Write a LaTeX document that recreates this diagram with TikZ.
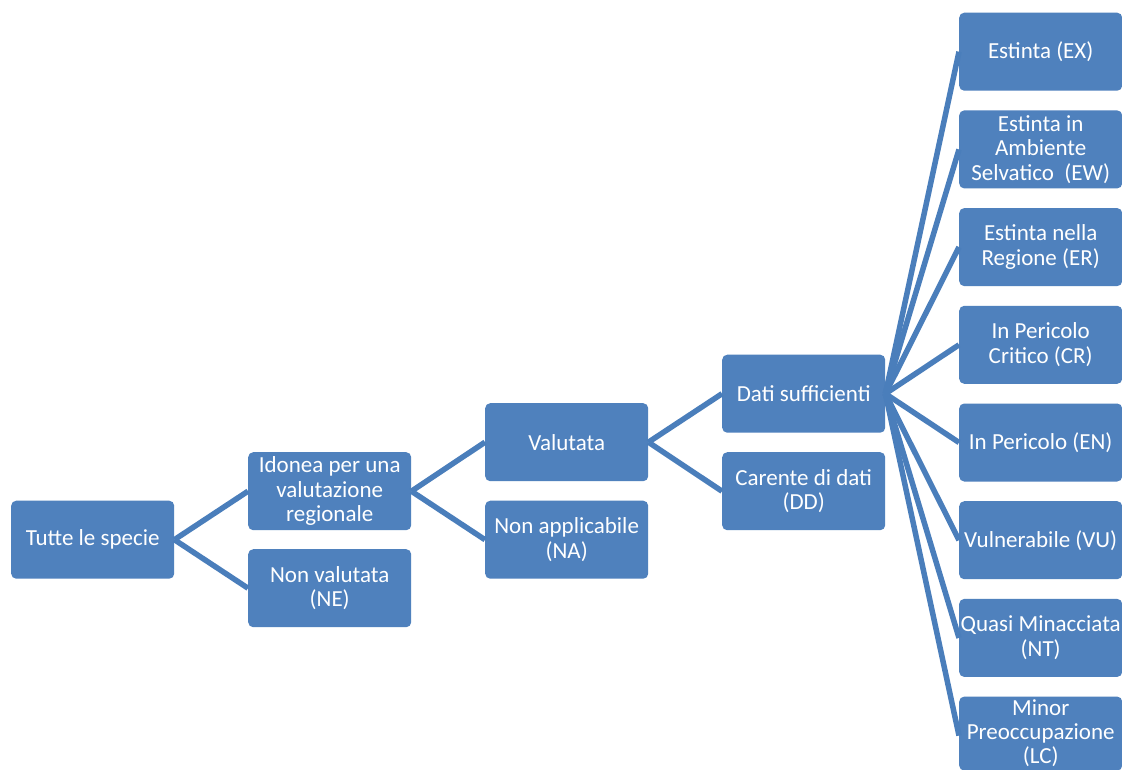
\documentclass[tikz,border=0pt]{standalone}
\usepackage{fontspec}
\setmainfont{Carlito}
\definecolor{boxblue}{HTML}{4F81BD}
\definecolor{lineblue}{HTML}{4A7EBB}
\begin{document}
\begin{tikzpicture}[x=1pt,y=-1pt,
  catbox/.style={draw=none, fill=boxblue, rounded corners=5pt, anchor=north west,
    minimum width=163pt, minimum height=78pt, inner xsep=0pt, inner ysep=2pt, align=center,
    text=white, font=\fontsize{23}{24.5}\selectfont},
  link/.style={draw=lineblue, line width=5.5pt}]
\useasboundingbox (0,0) rectangle (1122,769);
\fill[white] (0,0) rectangle (1122,769);
\node[catbox] (tutte) at (11,500.5) {Tutte le specie};
\node[catbox] (idonea) at (248,452) {Idonea per una\\valutazione\\regionale};
\node[catbox] (ne) at (248,549) {Non valutata\\(NE)};
\node[catbox] (val) at (485,403) {Valutata};
\node[catbox] (na) at (485,500.5) {Non applicabile\\(NA)};
\node[catbox] (dati) at (722,354.5) {Dati sufficienti};
\node[catbox] (dd) at (722,452) {Carente di dati\\(DD)};
\node[catbox] (ex) at (959,12.5) {Estinta (EX)};
\node[catbox] (ew) at (959,110.2) {Estinta in\\Ambiente\\Selvatico\ \ (EW)};
\node[catbox] (er) at (959,207.9) {Estinta nella\\Regione (ER)};
\node[catbox] (cr) at (959,305.6) {In Pericolo\\Critico (CR)};
\node[catbox] (en) at (959,403.3) {In Pericolo (EN)};
\node[catbox] (vu) at (959,501) {Vulnerabile (VU)};
\node[catbox] (nt) at (959,598.7) {Quasi Minacciata\\(NT)};
\node[catbox, minimum height=74pt, font=\fontsize{23}{24}\selectfont] (lc) at (959,696.4) {Minor\\Preoccupazione\\(LC)};
\draw[link] (tutte.east) -- (idonea.west);
\draw[link] (tutte.east) -- (ne.west);
\draw[link] (idonea.east) -- (val.west);
\draw[link] (idonea.east) -- (na.west);
\draw[link] (val.east) -- (dati.west);
\draw[link] (val.east) -- (dd.west);
\foreach \c in {ex,ew,er,cr,en,vu,nt} {\draw[link] (dati.east) -- (\c.west);}
\draw[link] (dati.east) -- ([yshift=-2pt]lc.west);
\end{tikzpicture}
\end{document}
